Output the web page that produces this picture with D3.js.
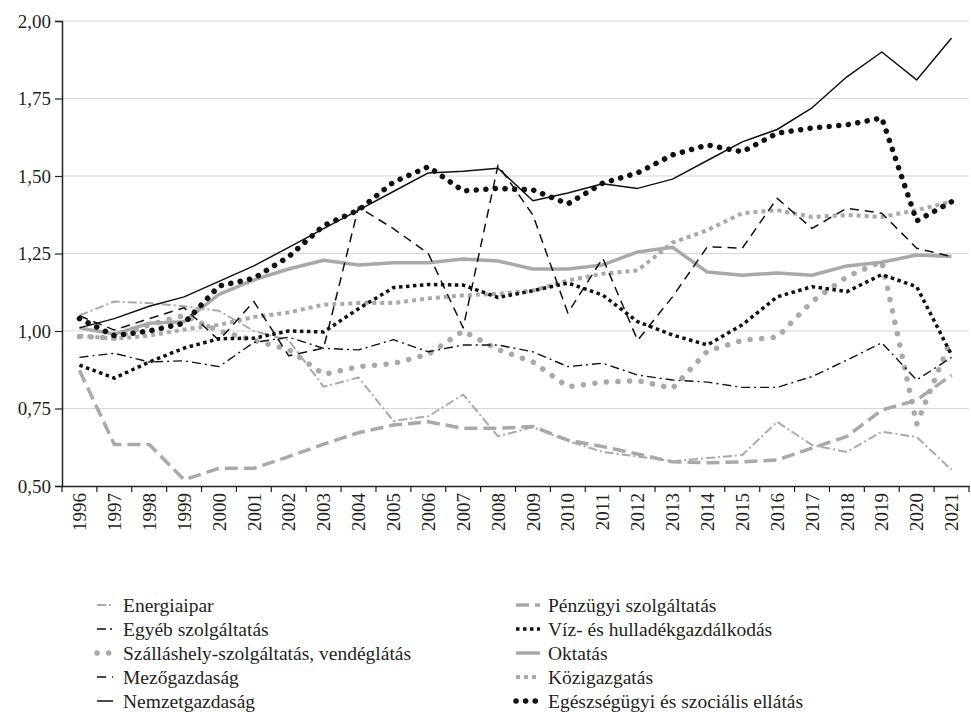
<!DOCTYPE html>
<html>
<head>
<meta charset="utf-8">
<script src="https://cdn.jsdelivr.net/npm/d3@7"></script>
<style>
  html, body { margin: 0; padding: 0; background: #fff; }
  svg text { font-family: "Liberation Serif", "DejaVu Serif", serif; fill: #231f20; }
</style>
</head>
<body>
<svg id="chart" width="971" height="712"></svg>
<script>
const years = ["1996","1997","1998","1999","2000","2001","2002","2003","2004","2005","2006","2007","2008","2009","2010","2011","2012","2013","2014","2015","2016","2017","2018","2019","2020","2021"];
const yTicks = [0.5, 0.75, 1.0, 1.25, 1.5, 1.75, 2.0];

const energiaipar = [1.05,1.095,1.09,1.08,1.065,1.00,0.97,0.82,0.85,0.71,0.725,0.795,0.66,0.69,0.645,0.61,0.595,0.58,0.59,0.60,0.707,0.632,0.61,0.675,0.658,0.552];
const penzugyi = [0.873,0.634,0.634,0.52,0.557,0.557,0.595,0.635,0.672,0.697,0.707,0.686,0.686,0.692,0.648,0.627,0.603,0.578,0.575,0.578,0.584,0.622,0.66,0.745,0.777,0.858];
const egyeb = [0.915,0.928,0.90,0.904,0.885,0.963,0.98,0.944,0.939,0.972,0.933,0.955,0.955,0.933,0.885,0.896,0.858,0.842,0.835,0.818,0.818,0.853,0.906,0.962,0.842,0.915];
const viz = [0.89,0.848,0.90,0.945,0.975,0.977,1.00,0.997,1.072,1.14,1.15,1.148,1.108,1.13,1.155,1.116,1.03,0.987,0.955,1.02,1.11,1.143,1.127,1.182,1.143,0.923];
const szallashely = [0.982,0.978,1.02,1.05,1.00,0.97,0.94,0.86,0.885,0.895,0.925,1.00,0.94,0.90,0.82,0.835,0.84,0.815,0.935,0.97,0.98,1.095,1.175,1.225,0.70,0.977];
const oktatas = [1.01,0.99,1.025,1.03,1.118,1.165,1.20,1.228,1.213,1.22,1.22,1.232,1.226,1.20,1.20,1.213,1.255,1.27,1.19,1.18,1.187,1.18,1.21,1.222,1.245,1.24];
const mezogazdasag = [1.049,1.003,1.04,1.075,0.97,1.095,0.92,0.945,1.40,1.33,1.25,1.01,1.535,1.374,1.058,1.235,0.97,1.11,1.272,1.267,1.428,1.331,1.396,1.38,1.267,1.24];
const kozigazgatas = [0.985,0.975,0.985,1.005,1.02,1.045,1.06,1.085,1.09,1.09,1.105,1.115,1.12,1.13,1.163,1.185,1.195,1.285,1.325,1.38,1.39,1.368,1.374,1.368,1.39,1.417];
const nemzetgazdasag = [1.01,1.04,1.08,1.11,1.16,1.21,1.27,1.33,1.39,1.45,1.51,1.515,1.525,1.42,1.445,1.475,1.46,1.49,1.55,1.61,1.65,1.72,1.82,1.90,1.81,1.945];
const egeszsegugyi = [1.04,0.985,1.00,1.025,1.145,1.17,1.24,1.34,1.39,1.48,1.53,1.452,1.46,1.455,1.41,1.477,1.51,1.568,1.60,1.578,1.638,1.655,1.665,1.687,1.355,1.417];

const seriesNames = ["Energiaipar","Pénzügyi szolgáltatás","Egyéb szolgáltatás","Víz- és hulladékgazdálkodás","Szálláshely-szolgáltatás, vendéglátás","Oktatás","Mezőgazdaság","Közigazgatás","Nemzetgazdaság","Egészségügyi és szociális ellátás"];
const seriesValues = [energiaipar, penzugyi, egyeb, viz, szallashely, oktatas, mezogazdasag, kozigazgatas, nemzetgazdasag, egeszsegugyi];

const GREY = "#a9a9a9";
const styles = {
  "Energiaipar": {color: GREY, width: 2, dash: "9,3,2,3", cap: "butt"},
  "Pénzügyi szolgáltatás": {color: GREY, width: 3.5, dash: "13,6", cap: "butt"},
  "Egyéb szolgáltatás": {color: "#111", width: 1.4, dash: "9,4,2,4", cap: "butt"},
  "Víz- és hulladékgazdálkodás": {color: "#111", width: 3.5, dash: "3.5,3.5", cap: "butt"},
  "Szálláshely-szolgáltatás, vendéglátás": {color: GREY, width: 5.5, dash: "0.1,11.5", cap: "round"},
  "Oktatás": {color: GREY, width: 3.5, dash: null, cap: "butt"},
  "Mezőgazdaság": {color: "#111", width: 1.5, dash: "9,6", cap: "butt"},
  "Közigazgatás": {color: GREY, width: 4, dash: "4,4", cap: "butt"},
  "Nemzetgazdaság": {color: "#111", width: 1.5, dash: null, cap: "butt"},
  "Egészségügyi és szociális ellátás": {color: "#111", width: 5.5, dash: "0.1,9.5", cap: "round"}
};
const drawOrder = ["Oktatás","Közigazgatás","Energiaipar","Pénzügyi szolgáltatás","Szálláshely-szolgáltatás, vendéglátás","Egyéb szolgáltatás","Víz- és hulladékgazdálkodás","Mezőgazdaság","Nemzetgazdaság","Egészségügyi és szociális ellátás"];
const legendLeft = ["Energiaipar","Egyéb szolgáltatás","Szálláshely-szolgáltatás, vendéglátás","Mezőgazdaság","Nemzetgazdaság"];
const legendRight = ["Pénzügyi szolgáltatás","Víz- és hulladékgazdálkodás","Oktatás","Közigazgatás","Egészségügyi és szociális ellátás"];

const FONT = '"Liberation Serif", "DejaVu Serif", serif';
const svg = d3.select("#chart");
const mLeft = 62, mRight = 969, mTop = 21, mBottom = 486;

const x = d3.scaleBand().domain(years).range([mLeft, mRight]).padding(0);
const y = d3.scaleLinear().domain([0.5, 2.0]).range([mBottom, mTop]);
const fmt = v => d3.format(".2f")(v).replace(".", ",");

// gridlines
svg.append("g").selectAll("line").data(yTicks.filter(v => v > 0.5)).join("line")
  .attr("x1", mLeft).attr("x2", mRight)
  .attr("y1", d => y(d)).attr("y2", d => y(d))
  .attr("stroke", "#d6d6d6").attr("stroke-width", 1.2);

// y axis
const yAxis = svg.append("g").attr("transform", `translate(${mLeft},0)`)
  .call(d3.axisLeft(y).tickValues(yTicks).tickFormat(fmt).tickSize(7).tickPadding(4));
yAxis.attr("font-family", FONT);
yAxis.select(".domain").attr("stroke", "#222").attr("stroke-width", 1.5);
yAxis.selectAll(".tick line").attr("stroke", "#222").attr("stroke-width", 1.2);
yAxis.selectAll("text").style("font-size", "19px").style("font-family", FONT).attr("fill", "#231f20");

// x axis
const xAxis = svg.append("g").attr("transform", `translate(0,${mBottom})`)
  .call(d3.axisBottom(x).tickSize(0).tickPadding(0));
xAxis.attr("font-family", FONT);
xAxis.select(".domain").attr("stroke", "#222").attr("stroke-width", 1.5);
xAxis.selectAll("text")
  .style("font-size", "19px").style("font-family", FONT).attr("fill", "#231f20")
  .attr("text-anchor", "end")
  .attr("dy", "0.35em")
  .attr("transform", "translate(0,7) rotate(-90)")
  .attr("x", 0).attr("y", 0);
// tick marks at band boundaries
const boundaries = years.map(yr => x(yr)).concat([x(years[years.length-1]) + x.bandwidth()]);
svg.append("g").selectAll("line").data(boundaries).join("line")
  .attr("x1", d => d).attr("x2", d => d)
  .attr("y1", mBottom).attr("y2", mBottom + 6)
  .attr("stroke", "#222").attr("stroke-width", 1.2);

// lines
const line = d3.line()
  .x((d, i) => x(years[i]) + x.bandwidth() / 2)
  .y(d => y(d));
const byName = {};
seriesNames.forEach((n, i) => byName[n] = seriesValues[i]);

drawOrder.forEach(name => {
  const s = styles[name];
  svg.append("path")
    .datum(byName[name])
    .attr("d", line)
    .attr("fill", "none")
    .attr("stroke", s.color)
    .attr("stroke-width", s.width)
    .attr("stroke-dasharray", s.dash)
    .attr("stroke-linecap", s.cap)
    .attr("stroke-linejoin", "round");
});

// legend
function drawLegend(list, x0, x1, tx) {
  const rowY = d3.scalePoint().domain(list).range([605, 701]);
  const g = svg.append("g");
  list.forEach(name => {
    const s = styles[name];
    const yy = rowY(name);
    g.append("line")
      .attr("x1", x0).attr("x2", x1).attr("y1", yy).attr("y2", yy)
      .attr("stroke", s.color).attr("stroke-width", s.width)
      .attr("stroke-dasharray", s.dash).attr("stroke-linecap", s.cap);
    g.append("text").attr("x", tx).attr("y", yy).attr("dy", "0.35em")
      .style("font-size", "19.5px").style("font-family", FONT).text(name);
  });
}
drawLegend(legendLeft, 97, 113, 123);
drawLegend(legendRight, 516, 540, 548);
</script>
</body>
</html>
